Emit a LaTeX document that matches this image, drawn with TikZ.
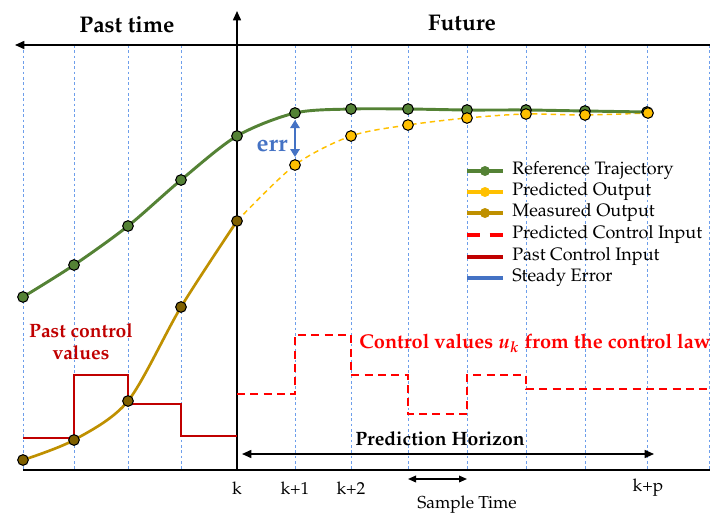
\documentclass[tikz,border=0pt]{standalone}
\usepackage[T1]{fontenc}
\usepackage{mathpazo}
\usepackage{bm}
\usetikzlibrary{arrows.meta}

\definecolor{refgreen}{HTML}{548235}
\definecolor{predyellow}{HTML}{FFC000}
\definecolor{measgold}{HTML}{BF9000}
\definecolor{measfill}{HTML}{7F6000}
\definecolor{ctrlred}{HTML}{FF0000}
\definecolor{pastred}{HTML}{C00000}
\definecolor{errblue}{HTML}{4472C4}
\definecolor{gridblue}{HTML}{6D9EEB}

\tikzset{
  gridline/.style={gridblue,line width=0.6pt,dash pattern=on 2pt off 2pt},
  axisline/.style={black,line width=1.2pt},
  headtxt/.style={font=\fontsize{17}{20}\selectfont\bfseries},
  legtxt/.style={font=\fontsize{13.5}{16}\selectfont,anchor=west,inner sep=0pt},
  ticktxt/.style={font=\fontsize{13}{15}\selectfont},
  legdot/.style={circle,inner sep=0pt,minimum size=7.5pt},
}

\begin{document}
\begin{tikzpicture}[x=0.75pt,y=-0.75pt]
  \useasboundingbox (0,0) rectangle (710,528);

  % sample grid
  \foreach \x in {23,74,128,181,295,351,408,467,526,585,647,709}
    \draw[gridline] (\x,45) -- (\x,470);

  % time axes
  \coordinate (o)   at (237,470);
  \coordinate (top) at (237,11);
  \coordinate (tl)  at (15,45);
  \coordinate (tr)  at (710,45);
  \coordinate (bl)  at (23,470);
  \coordinate (br)  at (710,470);
  \draw[axisline,-{Triangle[length=7pt,width=6pt]}] (tr) -- (tl);
  \draw[axisline,-{Triangle[length=7pt,width=6pt]}] (o) -- (top);
  \draw[axisline] (bl) -- (br);

  % control inputs
  \draw[pastred,line width=1.6pt] (23,438) -- (74,438) -- (74,375) -- (128,375)
    -- (128,404) -- (181,404) -- (181,436) -- (237,436);
  \draw[ctrlred,line width=1.6pt,dash pattern=on 6pt off 4pt] (237,394) -- (295,394)
    -- (295,335) -- (351,335) -- (351,375) -- (408,375) -- (408,414) -- (467,414)
    -- (467,375) -- (526,375) -- (526,389) -- (710,389);

  % sample points
  \coordinate (r1)  at (23,297);
  \coordinate (r2)  at (74,265);
  \coordinate (r3)  at (128,226);
  \coordinate (r4)  at (181,180);
  \coordinate (r5)  at (237,136);
  \coordinate (r6)  at (295,113);
  \coordinate (r7)  at (351,109);
  \coordinate (r8)  at (408,109);
  \coordinate (r9)  at (467,110);
  \coordinate (r10) at (526,110);
  \coordinate (r11) at (585,111);
  \coordinate (r12) at (647,112);

  \coordinate (m1) at (23,460);
  \coordinate (m2) at (74,440);
  \coordinate (m3) at (128,401);
  \coordinate (m4) at (181,307);
  \coordinate (m5) at (237,221);

  \coordinate (p1) at (295,165);
  \coordinate (p2) at (351,136);
  \coordinate (p3) at (408,125);
  \coordinate (p4) at (467,118);
  \coordinate (p5) at (526,114);
  \coordinate (p6) at (585,115);
  \coordinate (p7) at (648,113);

  % trajectories
  \draw[measgold,line width=2pt] plot[smooth] coordinates {(m1) (m2) (m3) (m4) (m5)};
  \draw[predyellow,line width=1.1pt,dash pattern=on 4pt off 3pt]
    plot[smooth] coordinates {(m5) (p1) (p2) (p3) (p4) (p5) (p6) (p7)};
  \draw[refgreen,line width=2.2pt]
    plot[smooth] coordinates {(r1) (r2) (r3) (r4) (r5) (r6) (r7) (r8) (r9) (r10) (r11) (r12)};

  \begin{scope}[every node/.style={circle,draw,line width=0.8pt,inner sep=0pt,minimum size=8pt}]
    \begin{scope}[every node/.append style={fill=refgreen}]
      \node (R1)  at (r1)  {};
      \node (R2)  at (r2)  {};
      \node (R3)  at (r3)  {};
      \node (R4)  at (r4)  {};
      \node (R5)  at (r5)  {};
      \node (R6)  at (r6)  {};
      \node (R7)  at (r7)  {};
      \node (R8)  at (r8)  {};
      \node (R9)  at (r9)  {};
      \node (R10) at (r10) {};
      \node (R11) at (r11) {};
      \node (R12) at (r12) {};
    \end{scope}
    \begin{scope}[every node/.append style={fill=measfill}]
      \node (M1) at (m1) {};
      \node (M2) at (m2) {};
      \node (M3) at (m3) {};
      \node (M4) at (m4) {};
      \node (M5) at (m5) {};
    \end{scope}
    \begin{scope}[every node/.append style={fill=predyellow}]
      \node (P1) at (p1) {};
      \node (P2) at (p2) {};
      \node (P3) at (p3) {};
      \node (P4) at (p4) {};
      \node (P5) at (p5) {};
      \node (P6) at (p6) {};
      \node (P7) at (p7) {};
    \end{scope}
  \end{scope}

  % tracking error
  \coordinate (e1) at (295,120);
  \coordinate (e2) at (295,157);
  \draw[errblue,line width=1.8pt,{Triangle[length=6pt,width=7pt]}-{Triangle[length=6pt,width=7pt]}] (e1) -- (e2);
  \node[errblue,font=\fontsize{18}{20}\selectfont\bfseries] (err) at (272,146) {err};

  % legend
  \draw[refgreen,line width=3pt] (467,171) -- node[legdot,fill=refgreen] (l1) {} (503,171);
  \draw[predyellow,line width=3pt] (467,192) -- node[legdot,fill=predyellow] (l2) {} (503,192);
  \draw[measgold,line width=3pt] (467,213) -- node[legdot,fill=measgold] (l3) {} (503,213);
  \draw[ctrlred,line width=2.6pt,dash pattern=on 10pt off 7pt] (467,235) -- (503,235);
  \draw[pastred,line width=2.6pt] (467,257) -- (503,257);
  \draw[errblue,line width=2.6pt] (467,278) -- (503,278);
  \node[legtxt] (t1) at (512,171) {Reference Trajectory};
  \node[legtxt] (t2) at (512,192) {Predicted Output};
  \node[legtxt] (t3) at (512,213) {Measured Output};
  \node[legtxt] (t4) at (512,235) {Predicted Control Input};
  \node[legtxt] (t5) at (512,257) {Past Control Input};
  \node[legtxt] (t6) at (512,278) {Steady Error};

  % horizons
  \coordinate (h1) at (242,454);
  \coordinate (h2) at (654,454);
  \draw[line width=1.2pt,{Triangle[length=7pt,width=6pt]}-{Triangle[length=7pt,width=6pt]}] (h1) -- (h2);
  \node[font=\fontsize{14.5}{17}\selectfont\bfseries] (hz) at (440,439) {Prediction Horizon};
  \coordinate (s1) at (408,479);
  \coordinate (s2) at (467,479);
  \draw[line width=1pt,{Triangle[length=6pt,width=5pt]}-{Triangle[length=6pt,width=5pt]}] (s1) -- (s2);
  \node[ticktxt] (ts) at (467,505) {Sample Time};

  % headings and labels
  \node[headtxt] (past) at (127,25) {Past time};
  \node[headtxt] (fut)  at (462,23) {Future};
  \node[pastred,align=center,font=\fontsize{14.5}{16.5}\selectfont\bfseries] (pcv) at (81,342) {Past control\\values};
  \node[ctrlred,font=\fontsize{15}{18}\selectfont\bfseries] (cv) at (535,343) {Control values $\bm{u_k}$ from the control law};
  \node[ticktxt] (k0) at (237,488) {k};
  \node[ticktxt] (k1) at (295,488) {k+1};
  \node[ticktxt] (k2) at (351,488) {k+2};
  \node[ticktxt] (kp) at (648,488) {k+p};
\end{tikzpicture}
\end{document}
